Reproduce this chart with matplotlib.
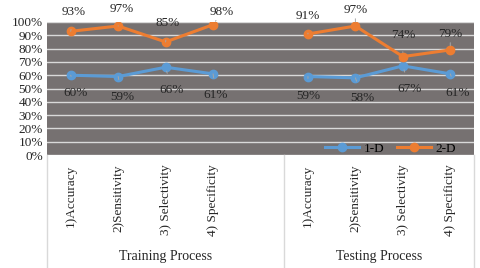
import numpy as np
import matplotlib.pyplot as plt

plt.rcParams['font.family'] = ['Liberation Serif', 'DejaVu Serif']

# categories (slot 4 is the empty spacer that closes the Training group)
categories = ['1)Accuracy', '2)Sensitivity', '3) Selectivity', '4) Specificity', '',
              '1)Accuracy', '2)Sensitivity', '3) Selectivity', '4) Specificity']
groups = ['Training Process', 'Testing Process']
series_1d = [60, 59, 66, 61, np.nan, 59, 58, 67, 61]
series_2d = [93, 97, 85, 98, np.nan, 91, 97, 74, 79]

# label offsets in pixels (dx, dy) relative to each point
off_1d = [(5, -18), (4, -20), (6, -23), (3, -21), None, (0, -19), (7, -20), (7, -23), (7, -19)]
off_2d = [(3, 19), (4, 17), (2, 19), (9, 13), None, (0, 18), (0, 16), (0, 22), (0, 16)]

fig = plt.figure(figsize=(4.8, 2.68), dpi=100)
ax = fig.add_axes([47 / 480, 1 - 155 / 268, 427 / 480, 133 / 268])
ax.set_facecolor('#767171')

x = np.arange(len(categories))
blue = '#5b9bd5'
orange = '#ed7d31'
ax.plot(x, series_1d, color=blue, lw=2.2, marker='o', ms=6, label='1-D', zorder=3)
ax.plot(x, series_2d, color=orange, lw=2.2, marker='o', ms=6, label='2-D', zorder=3)

for vals, offs in [(series_1d, off_1d), (series_2d, off_2d)]:
    for xi, v, o in zip(x, vals, offs):
        if o is None:
            continue
        ax.annotate(f'{int(v)}%', (xi, v), xytext=o, textcoords='offset pixels',
                    ha='center', va='center', fontsize=9.5, color='#262626',
                    annotation_clip=False, zorder=4,
                    arrowprops=dict(arrowstyle='-', color='#a6a6a6', lw=0.7,
                                    shrinkA=6, shrinkB=3))

ax.set_xlim(-0.5, len(categories) - 0.5)
ax.set_ylim(0, 100)
ax.set_yticks(np.arange(0, 101, 10))
ax.set_yticklabels([f'{v}%' for v in range(0, 101, 10)])
ax.yaxis.grid(True, color='#d9d9d9', lw=1)
ax.set_axisbelow(True)
ax.set_xticks(x)
ax.set_xticklabels(categories, rotation=90, va='top')
ax.tick_params(axis='both', length=0, labelsize=9.5, labelcolor='#262626')
ax.tick_params(axis='x', pad=7)
ax.tick_params(axis='y', pad=3)
for s in ax.spines.values():
    s.set_visible(False)

# group separators and labels below the axis
depth = -(268 - 155) / 133
for xs in [-0.5, 4.5, len(categories) - 0.5]:
    ax.plot([xs, xs], [0, depth * 100], color='#d9d9d9', lw=1, clip_on=False)
ax.text(2, -76, groups[0], ha='center', va='center', fontsize=10, color='#262626')
ax.text(6.5, -76, groups[1], ha='center', va='center', fontsize=10, color='#262626')

ax.legend(loc='lower right', ncol=2, frameon=False, fontsize=9.5, handlelength=2.6,
          columnspacing=1.0, handletextpad=0.3, borderaxespad=0.0,
          bbox_to_anchor=(0.97, -0.04))

fig.savefig('out.png', dpi=100, facecolor='white')
